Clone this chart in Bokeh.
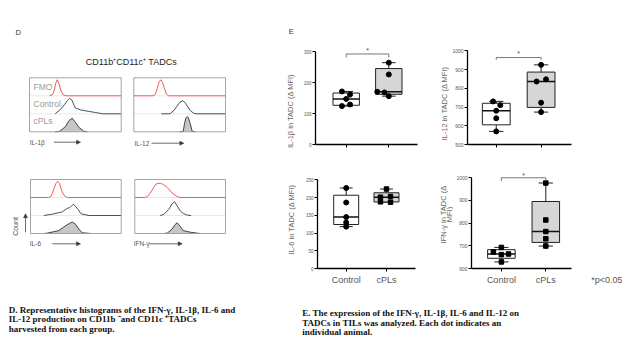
import math
import numpy as np
from bokeh.plotting import figure
from bokeh.models import Range1d, FixedTicker, Arrow, NormalHead, LinearAxis
from bokeh.layouts import row, column
from bokeh.core.properties import value
from bokeh.embed import file_html
from bokeh.resources import INLINE

SANS = "Liberation Sans"
SERIF = "Liberation Serif"

# ---------------- box-plot data (delta MFI, one value per animal) ----------------
groups = ["Control", "cPLs"]
il1b_control = [171, 161, 147, 129, 124]
il1b_cpls = [264, 226, 170, 168, 156]
il12_control = [730, 710, 680, 640, 570]
il12_cpls = [925, 848, 836, 723, 673]
il6_control = [227, 186, 145, 130, 118]
il6_cpls = [224, 203, 201, 188, 187]
ifng_control = [693, 673, 664, 661, 629]
ifng_cpls = [977, 814, 763, 731, 699]

il1b_ticks = [0, 100, 200, 300]
il12_ticks = [500, 600, 700, 800, 900, 1000]
il6_ticks = [0, 50, 100, 150, 200, 250]
ifng_ticks = [600, 700, 800, 900, 1000]
p_note = "*p<0.05"

# horizontal scatter offsets of the dots (layout only)
il1b_control_dx = [-0.1, 0.09, 0, 0.09, -0.1]
il1b_cpls_dx = [0, 0, -0.27, -0.1, 0]
il12_control_dx = [-0.07, 0.09, 0, 0, 0]
il12_cpls_dx = [0, 0.11, -0.1, 0, 0]
il6_control_dx = [0, 0, 0, 0, 0]
il6_cpls_dx = [0, 0.1, -0.15, -0.15, 0.1]
ifng_control_dx = [0, -0.18, 0.16, 0, 0]
ifng_cpls_dx = [0, 0, 0, 0, 0]

# ---------------- histogram data (fluorescence 0-100, count % of row) ----------------
il1b_fmo_x = [22, 25, 27, 28.5, 30.2, 32, 34, 36.5, 40, 100]
il1b_fmo_y = [0, 6, 30, 68, 89, 70, 32, 7, 0, 0]
il1b_ctrl_x = [28, 34, 38, 41.5, 43.6, 46, 48, 50, 55.5, 64, 72, 80, 100]
il1b_ctrl_y = [0, 25, 50, 75, 85, 78, 55, 33, 22, 14, 7, 0, 0]
il1b_cpl_x = [28, 33, 39.3, 42.9, 46.6, 50.2, 53.8, 59.2, 63]
il1b_cpl_y = [0, 3, 29, 61, 76, 52, 25, 3, 0]

il12_fmo_x = [0, 21, 23.5, 25.5, 27.5, 29.4, 31.3, 33.5, 35.5, 38, 100]
il12_fmo_y = [0, 0, 8, 40, 75, 89, 75, 40, 10, 0, 0]
il12_ctrl_x = [30, 38, 40, 44, 47.3, 50.5, 53.4, 56, 58.2, 61.5, 65.4, 68, 100]
il12_ctrl_y = [0, 0, 2, 20, 44, 65, 72, 62, 44, 18, 3, 0, 0]
il12_cpl_x = [50, 53.9, 55.6, 57, 58.2, 59.5, 61.1, 63.7, 67]
il12_cpl_y = [0, 3, 53, 78, 85, 78, 53, 3, 0]

il6_fmo_x = [0, 20, 22, 24, 25.7, 28, 30.1, 32, 33.8, 36, 38.6, 41, 100]
il6_fmo_y = [0, 0, 4, 22, 47, 78, 90, 78, 47, 20, 4, 0, 0]
il6_ctrl_x = [14.7, 25.7, 35, 40.5, 43.3, 45.5, 47.7, 51.5, 55.9, 64.3, 100]
il6_ctrl_y = [0, 9, 20, 40, 43, 55, 62, 40, 9, 0, 0]
il6_cpl_x = [15, 18.4, 31.2, 38.6, 43.3, 46, 49.6, 53.3, 57, 62.5, 66]
il6_cpl_y = [0, 2, 16, 43, 57, 64, 52, 25, 4, 2, 0]

ifng_fmo_x = [0, 11, 13.7, 16.5, 19.2, 22.8, 25.5, 28.3, 31.5, 35.7, 41.2, 46.7, 50, 100]
ifng_fmo_y = [0, 0, 4, 20, 42, 72, 78, 79, 72, 56, 25, 5, 0, 0]
ifng_ctrl_x = [28, 32, 37.5, 41.2, 43.8, 46.7, 50.4, 54, 57.8, 62]
ifng_ctrl_y = [0, 6, 34, 66, 77, 53, 24, 10, 2, 0]
ifng_cpl_x = [32, 35.7, 41.2, 44.1, 46.7, 49.6, 53.4, 61.4, 68.8, 72]
ifng_cpl_y = [0, 2, 25, 48, 60, 43, 16, 7, 2, 0]


def canvas(w, h):
    p = figure(width=w, height=h, x_range=Range1d(0, w), y_range=Range1d(h, 0),
               toolbar_location=None, output_backend="svg", min_border=0,
               x_axis_location=None, y_axis_location=None, outline_line_color=None)
    p.grid.visible = False
    return p


def txt(p, x, y, s, size, color="#333333", align="left", angle=0.0, font=SANS, style="normal"):
    p.text(x=[x], y=[y], text=[s], text_font=value(font), text_font_size=size,
           text_color=color, text_align=align, text_baseline="middle", angle=angle,
           text_font_style=style)


# ================= panel D (plus left labels of panel E) =================
DW, DH = 300, 336
dfig = canvas(DW, DH)


def hist_panel(p, left, right, top, bottom, fmo, ctrl, cpl):
    h = (bottom - top) / 3.0
    subs = []
    for i in range(3):
        subs.append(p.subplot(x_source=Range1d(0, 100), y_source=Range1d(0, 100),
                              x_target=Range1d(left, right),
                              y_target=Range1d(top + (i + 1) * h, top + i * h)))
    whole = p.subplot(x_source=Range1d(0, 100), y_source=Range1d(0, 3),
                      x_target=Range1d(left, right), y_target=Range1d(bottom, top))
    whole.segment(x0=[0, 0], y0=[1, 2], x1=[100, 100], y1=[1, 2], line_color="#e2e2e2", line_width=0.8)
    subs[0].line(x=fmo[0], y=fmo[1], line_color="#ef5a5a", line_width=1)
    subs[1].line(x=ctrl[0], y=ctrl[1], line_color="#3c3c3c", line_width=0.9)
    subs[2].varea(x=cpl[0], y1=[0] * len(cpl[0]), y2=cpl[1], fill_color="#c6c6c6")
    subs[2].line(x=cpl[0], y=cpl[1], line_color="#333333", line_width=0.9)
    whole.quad(left=[0], right=[100], bottom=[0], top=[3], fill_color=None,
               line_color="#9a9a9a", line_width=0.9)


hist_panel(dfig, 29, 120.7, 77.3, 131.3, (il1b_fmo_x, il1b_fmo_y), (il1b_ctrl_x, il1b_ctrl_y), (il1b_cpl_x, il1b_cpl_y))
hist_panel(dfig, 133.3, 225, 77.3, 131.3, (il12_fmo_x, il12_fmo_y), (il12_ctrl_x, il12_ctrl_y), (il12_cpl_x, il12_cpl_y))
hist_panel(dfig, 30, 120.7, 179, 233, (il6_fmo_x, il6_fmo_y), (il6_ctrl_x, il6_ctrl_y), (il6_cpl_x, il6_cpl_y))
hist_panel(dfig, 134.3, 225, 179, 233, (ifng_fmo_x, ifng_fmo_y), (ifng_ctrl_x, ifng_ctrl_y), (ifng_cpl_x, ifng_cpl_y))

txt(dfig, 15, 31.7, "D", "7.5px", "#333333")
txt(dfig, 130.8, 61.7, "CD11b\u207aCD11c\u207a TADCs", "9px", "#222222", align="center")
txt(dfig, 33, 86, "FMO", "8.5px", "#9a9a9a")
txt(dfig, 33, 103.5, "Control", "8.5px", "#9a9a9a")
txt(dfig, 33, 120.8, "cPLs", "8.5px", "#9a9a9a")

txt(dfig, 29.3, 141.7, "IL-1\u03b2", "6.5px", "#555555")
txt(dfig, 134, 142.7, "IL-12", "6.5px", "#555555")
txt(dfig, 29.3, 243.3, "IL-6", "6.5px", "#555555")
txt(dfig, 133.3, 243.3, "IFN-\u03b3", "6.5px", "#555555")
txt(dfig, 15, 226, "Count", "7px", "#555555", align="center", angle=math.pi / 2)

for xs, ys, xe, ye in [(53.3, 141.7, 80, 141.7), (151, 142.7, 183.3, 142.7),
                       (51.7, 243.3, 80, 243.3), (149, 243.3, 181.7, 243.3),
                       (25, 231.7, 25, 213.3)]:
    dfig.add_layout(Arrow(end=NormalHead(size=4, line_color="#333333", fill_color="#333333", line_width=0.5),
                          x_start=xs, y_start=ys, x_end=xe, y_end=ye,
                          line_color="#444444", line_width=0.8))

cap_d = ["D. Representative histograms of the IFN-\u03b3, IL-1\u03b2, IL-6 and",
         "IL-12 production on CD11b \u207band CD11c \u207aTADCs",
         "harvested from each group."]
for i, s in enumerate(cap_d):
    txt(dfig, 8.3, 309 + 9.8 * i, s, "9px", "#111111", font=SERIF, style="bold")

# labels of panel E that sit left of the first column of box plots
txt(dfig, 288.3, 30.5, "E", "7.5px", "#333333")
txt(dfig, 290, 110.5, "IL-1\u03b2 in TADC (\u0394 MFI)", "7.5px", "#666666", align="center", angle=math.pi / 2)
txt(dfig, 290.7, 219, "IL-6 in TADC (\u0394 MFI)", "7.5px", "#666666", align="center", angle=math.pi / 2)


# ================= panel E : four box plots =================
def box_fig(w, h, lb, rb, tb, bb, xr, xbound, yr, ticks, tick_size, show_x):
    p = figure(width=w, height=h, x_range=Range1d(*xr), y_range=Range1d(*yr),
               toolbar_location=None, output_backend="svg",
               min_border_left=lb, min_border_right=rb, min_border_top=tb, min_border_bottom=bb,
               outline_line_color=None)
    p.xgrid.visible = False
    p.ygrid.visible = False
    ya = p.yaxis[0]
    ya.ticker = FixedTicker(ticks=ticks)
    ya.bounds = (ticks[0], ticks[-1])
    ya.axis_line_width = 1.3
    ya.major_tick_out = 3
    ya.major_tick_in = 0
    ya.major_tick_line_width = 1
    ya.minor_tick_line_color = None
    ya.major_label_text_font_size = tick_size
    ya.major_label_text_font = SANS
    ya.major_label_text_color = "#555555"
    ya.major_label_standoff = 1
    xa = p.xaxis[0]
    xa.ticker = FixedTicker(ticks=[1, 2])
    xa.bounds = xbound
    xa.axis_line_width = 1.3
    xa.major_tick_out = 3
    xa.major_tick_in = 0
    xa.minor_tick_line_color = None
    xa.major_label_text_font = SANS
    xa.major_label_text_font_size = "9px"
    xa.major_label_text_color = "#555555"
    xa.major_label_standoff = 3
    if show_x:
        xa.major_label_overrides = {1: groups[0], 2: groups[1]}
    else:
        xa.major_label_overrides = {1: "", 2: ""}
    return p


def draw_group(p, xc, vals, dx, fill, marker, size):
    v = np.array(vals, dtype=float)
    q1, med, q3 = np.percentile(v, [25, 50, 75], method="weibull")
    lo, hi = v.min(), v.max()
    bw, cw = 0.62, 0.32
    p.segment(x0=[xc, xc], y0=[lo, q3], x1=[xc, xc], y1=[q1, hi], line_color="#222222", line_width=1)
    p.segment(x0=[xc - cw / 2] * 2, y0=[lo, hi], x1=[xc + cw / 2] * 2, y1=[lo, hi],
              line_color="#222222", line_width=1)
    p.quad(left=[xc - bw / 2], right=[xc + bw / 2], bottom=[q1], top=[q3],
           fill_color=fill, line_color="#222222", line_width=1)
    p.segment(x0=[xc - bw / 2], y0=[med], x1=[xc + bw / 2], y1=[med], line_color="#111111", line_width=1.4)
    p.scatter(x=[xc + d for d in dx], y=vals, marker=marker, size=size,
              fill_color="black", line_color="black")


def sig(p, y_drop, y_top, y_star):
    p.line(x=[1, 1, 2, 2], y=[y_drop, y_top, y_top, y_drop], line_color="#777777", line_width=1)
    p.text(x=[1.5], y=[y_star], text=["*"], text_font=value(SANS), text_font_size="7px",
           text_color="#444444", text_align="center", text_baseline="middle")


def ylab(p, x, y, s):
    txt(p, x, y, s, "7.5px", "#666666", align="center", angle=math.pi / 2)


# ---- top row ----
b1 = box_fig(149, 158, 15, 0, 41, 14, (0.279, 3.425), (0.279, 2.673), (0, 332.3), il1b_ticks, "4.5px", False)
draw_group(b1, 1, il1b_control, il1b_control_dx, "white", "circle", 5)
draw_group(b1, 2, il1b_cpls, il1b_cpls_dx, "#d6d6d6", "circle", 5)
sig(b1, 281, 292, 303)
ylab(b1, 3.319, 132.3, "IL-12 in TADC (\u0394 MFI)")   # label of the neighbouring IL-12 plot

b2 = box_fig(173, 158, 16, 51, 41, 14, (0.359, 2.678), (0.359, 2.678), (500, 1049.6), il12_ticks, "5px", False)
draw_group(b2, 1, il12_control, il12_control_dx, "white", "circle", 5)
draw_group(b2, 2, il12_cpls, il12_cpls_dx, "#d6d6d6", "circle", 5)
sig(b2, 952, 964, 984)

# ---- bottom row ----
b3 = box_fig(153, 132, 17, 0, 9, 22, (0.288, 3.663), (0.288, 2.72), (0, 284.7), il6_ticks, "4.5px", True)
draw_group(b3, 1, il6_control, il6_control_dx, "white", "circle", 5)
draw_group(b3, 2, il6_cpls, il6_cpls_dx, "#d6d6d6", "square", 4.5)
ylab(b3, 3.427, 152.2, "IFN-\u03b3 in TADC (\u0394")   # label of the neighbouring IFN-g plot
ylab(b3, 3.576, 152.2, "MFI)")

b4 = box_fig(169, 132, 16, 0, 9, 22, (0.327, 3.727), (0.327, 2.571), (600, 1045.4), ifng_ticks, "5px", False)
b4.xaxis[0].major_label_text_font_size = "0px"
b4.xaxis[0].major_label_standoff = 0
draw_group(b4, 1, ifng_control, ifng_control_dx, "white", "square", 4.5)
draw_group(b4, 2, ifng_cpls, ifng_cpls_dx, "#d6d6d6", "square", 4.5)
sig(b4, 986, 1000, 1008.6)
lab_axis = LinearAxis(ticker=FixedTicker(ticks=[1, 2, 3.4]),
                      major_label_overrides={1: groups[0], 2: groups[1], 3.4: p_note},
                      axis_line_color=None, major_tick_line_color=None, minor_tick_line_color=None,
                      major_tick_out=0, major_tick_in=0, minor_tick_out=0,
                      major_label_standoff=3, major_label_text_font=SANS,
                      major_label_text_font_size="9px", major_label_text_color="#555555")
b4.add_layout(lab_axis, "below")

# caption E
capE = canvas(322, 46)
cap_e = ["E. The expression of the IFN-\u03b3, IL-1\u03b2, IL-6 and IL-12 on",
         "TADCs in TILs was analyzed. Each dot indicates an",
         "individual animal."]
for i, s in enumerate(cap_e):
    txt(capE, 1.7, 22.7 + 9.5 * i, s, "9px", "#111111", font=SERIF, style="bold")

layout = row(dfig, column(row(b1, b2), row(b3, b4), capE))
open("out.html", "w").write(file_html(layout, INLINE))
